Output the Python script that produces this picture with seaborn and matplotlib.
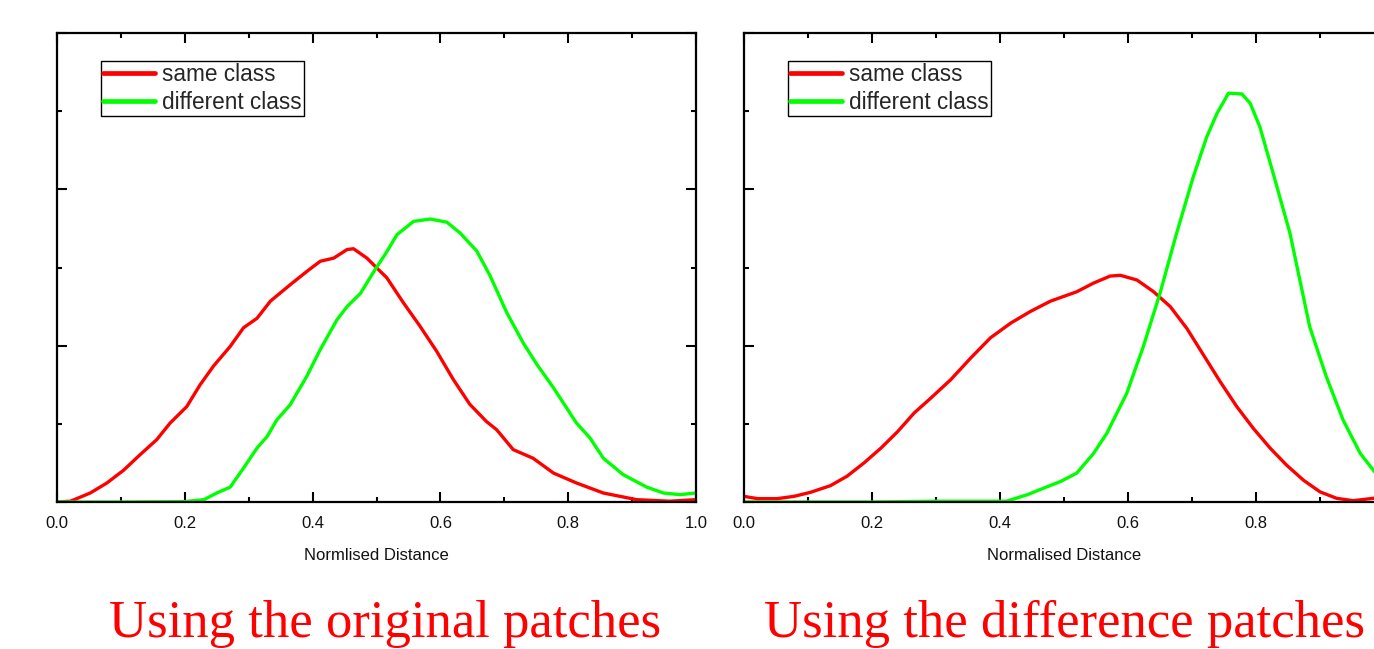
import numpy as np
import pandas as pd
import matplotlib
matplotlib.use("Agg")
import matplotlib.pyplot as plt
from matplotlib import font_manager as fm
from matplotlib.ticker import MultipleLocator
import seaborn as sns

# ---------------- data ----------------
# Left panel: original patches
orig_same_x = [0, 0.021, 0.052, 0.078, 0.104, 0.130, 0.156, 0.177, 0.203, 0.224, 0.245,
               0.271, 0.292, 0.313, 0.334, 0.365, 0.391, 0.412, 0.433, 0.454, 0.464,
               0.485, 0.501, 0.516, 0.542, 0.568, 0.594, 0.620, 0.646, 0.672, 0.688,
               0.714, 0.745, 0.777, 0.813, 0.855, 0.907, 0.959, 1.0]
orig_same_y = [0, 0.01, 0.115, 0.243, 0.405, 0.605, 0.797, 1.01, 1.22, 1.50, 1.74,
               1.99, 2.23, 2.35, 2.57, 2.78, 2.95, 3.08, 3.12, 3.23, 3.24,
               3.12, 2.99, 2.87, 2.55, 2.25, 1.93, 1.57, 1.25, 1.03, 0.925,
               0.67, 0.56, 0.37, 0.243, 0.115, 0.03, 0.01, 0.03]
orig_diff_x = [0, 0.1, 0.2, 0.230, 0.250, 0.271, 0.292, 0.313, 0.329, 0.344, 0.365,
               0.391, 0.412, 0.438, 0.454, 0.475, 0.496, 0.516, 0.532, 0.558, 0.584,
               0.610, 0.631, 0.657, 0.678, 0.704, 0.730, 0.751, 0.777, 0.813, 0.834,
               0.855, 0.886, 0.923, 0.949, 0.975, 1.0]
orig_diff_y = [0, 0, 0.005, 0.03, 0.115, 0.19, 0.435, 0.69, 0.84, 1.05, 1.245,
               1.61, 1.95, 2.33, 2.50, 2.67, 2.95, 3.20, 3.42, 3.59, 3.62,
               3.58, 3.44, 3.21, 2.89, 2.42, 2.03, 1.76, 1.46, 1.01, 0.82,
               0.56, 0.35, 0.19, 0.115, 0.094, 0.115]

# Right panel: difference patches
dpat_same_x = [0, 0.021, 0.052, 0.078, 0.104, 0.135, 0.161, 0.1875, 0.214, 0.240, 0.266,
               0.292, 0.323, 0.354, 0.385, 0.417, 0.448, 0.479, 0.520, 0.546, 0.572,
               0.588, 0.614, 0.640, 0.666, 0.692, 0.718, 0.744, 0.770, 0.796, 0.822,
               0.848, 0.874, 0.900, 0.926, 0.952, 0.983, 1.0]
dpat_same_y = [0.072, 0.043, 0.043, 0.072, 0.124, 0.209, 0.33, 0.50, 0.69, 0.90, 1.14,
               1.33, 1.565, 1.84, 2.10, 2.29, 2.44, 2.57, 2.69, 2.80, 2.89,
               2.90, 2.84, 2.69, 2.50, 2.22, 1.88, 1.54, 1.22, 0.94, 0.69,
               0.47, 0.28, 0.13, 0.047, 0.017, 0.047, 0.07]
dpat_diff_x = [0, 0.2, 0.3, 0.41, 0.443, 0.469, 0.495, 0.520, 0.546, 0.567, 0.598,
               0.624, 0.650, 0.676, 0.702, 0.723, 0.739, 0.757, 0.778, 0.791, 0.806,
               0.827, 0.853, 0.884, 0.910, 0.936, 0.963, 0.984, 1.0]
dpat_diff_y = [0, 0, 0.01, 0.01, 0.094, 0.18, 0.264, 0.37, 0.62, 0.88, 1.39,
               1.99, 2.67, 3.44, 4.16, 4.67, 4.97, 5.23, 5.22, 5.10, 4.80,
               4.20, 3.44, 2.24, 1.60, 1.05, 0.62, 0.40, 0.25]

class_labels = ["same class", "different class"]
x_ticks = [0.0, 0.2, 0.4, 0.6, 0.8, 1.0]
x_labels = ["Normlised Distance", "Normalised Distance"]
captions = ["Using the original patches", "Using the difference patches"]

# ---------------- style ----------------
sns.set_style("white")
names = {f.name for f in fm.fontManager.ttflist}
sans = "Liberation Sans" if "Liberation Sans" in names else "DejaVu Sans"
serif = "Liberation Serif" if "Liberation Serif" in names else "DejaVu Serif"
plt.rcParams["font.family"] = [sans, "DejaVu Sans"]

palette = {"same class": "#ff0000", "different class": "#00ff00"}

fig = plt.figure(figsize=(13.74, 6.49), dpi=100)
W, H = 1374.0, 649.0


def make_df(sx, sy, dx, dy):
    return pd.DataFrame({
        "x": list(sx) + list(dx),
        "y": list(sy) + list(dy),
        "cls": [class_labels[0]] * len(sx) + [class_labels[1]] * len(dx),
    })


panels = [
    (make_df(orig_same_x, orig_same_y, orig_diff_x, orig_diff_y), 57, 696, x_labels[0], captions[0], 385.5),
    (make_df(dpat_same_x, dpat_same_y, dpat_diff_x, dpat_diff_y), 744, 1384, x_labels[1], captions[1], 1065),
]

for df, x0, x1, xlab, cap, capx in panels:
    ax = fig.add_axes([x0 / W, (H - 502) / H, (x1 - x0) / W, (502 - 33) / H])
    sns.lineplot(data=df, x="x", y="y", hue="cls", hue_order=class_labels,
                 palette=palette, estimator=None, sort=False, linewidth=2.4, ax=ax)
    ax.set_xlim(0, 1)
    ax.set_ylim(0, 6)
    ax.set_xticks(x_ticks)
    ax.set_xticklabels([f"{t:.1f}" for t in x_ticks])
    ax.xaxis.set_minor_locator(MultipleLocator(0.1))
    ax.yaxis.set_major_locator(MultipleLocator(2))
    ax.yaxis.set_minor_locator(MultipleLocator(1))
    ax.tick_params(axis="both", which="both", direction="in",
                   top=True, right=True, bottom=True, left=True,
                   color="black", labelleft=False)
    ax.tick_params(axis="both", which="major", length=7, width=1.5, pad=10,
                   labelsize=12, labelcolor="#111111")
    ax.tick_params(axis="both", which="minor", length=3.5, width=1.5)
    for sp in ax.spines.values():
        sp.set_visible(True)
        sp.set_color("black")
        sp.set_linewidth(1.6)
    ax.set_xlabel(xlab, fontsize=12, labelpad=12, color="#111111")
    ax.set_ylabel("")
    handles, labels = ax.get_legend_handles_labels()
    for h in handles:
        h.set_linewidth(3.4)
    ax.legend(handles, labels, loc="upper left",
              bbox_to_anchor=(44 / (x1 - x0), (502 - 61) / 469.0),
              borderaxespad=0, fontsize=16.3, frameon=True, fancybox=False,
              framealpha=1, edgecolor="black", borderpad=0.1, labelspacing=0.2,
              handlelength=2.3, handletextpad=0.3)
    ax.get_legend().get_frame().set_linewidth(1.0)
    fig.text(capx / W, (H - 637) / H, cap, ha="center", va="baseline",
             fontsize=38, color="#ff0000", family=serif)

fig.savefig("out.png", dpi=100)
